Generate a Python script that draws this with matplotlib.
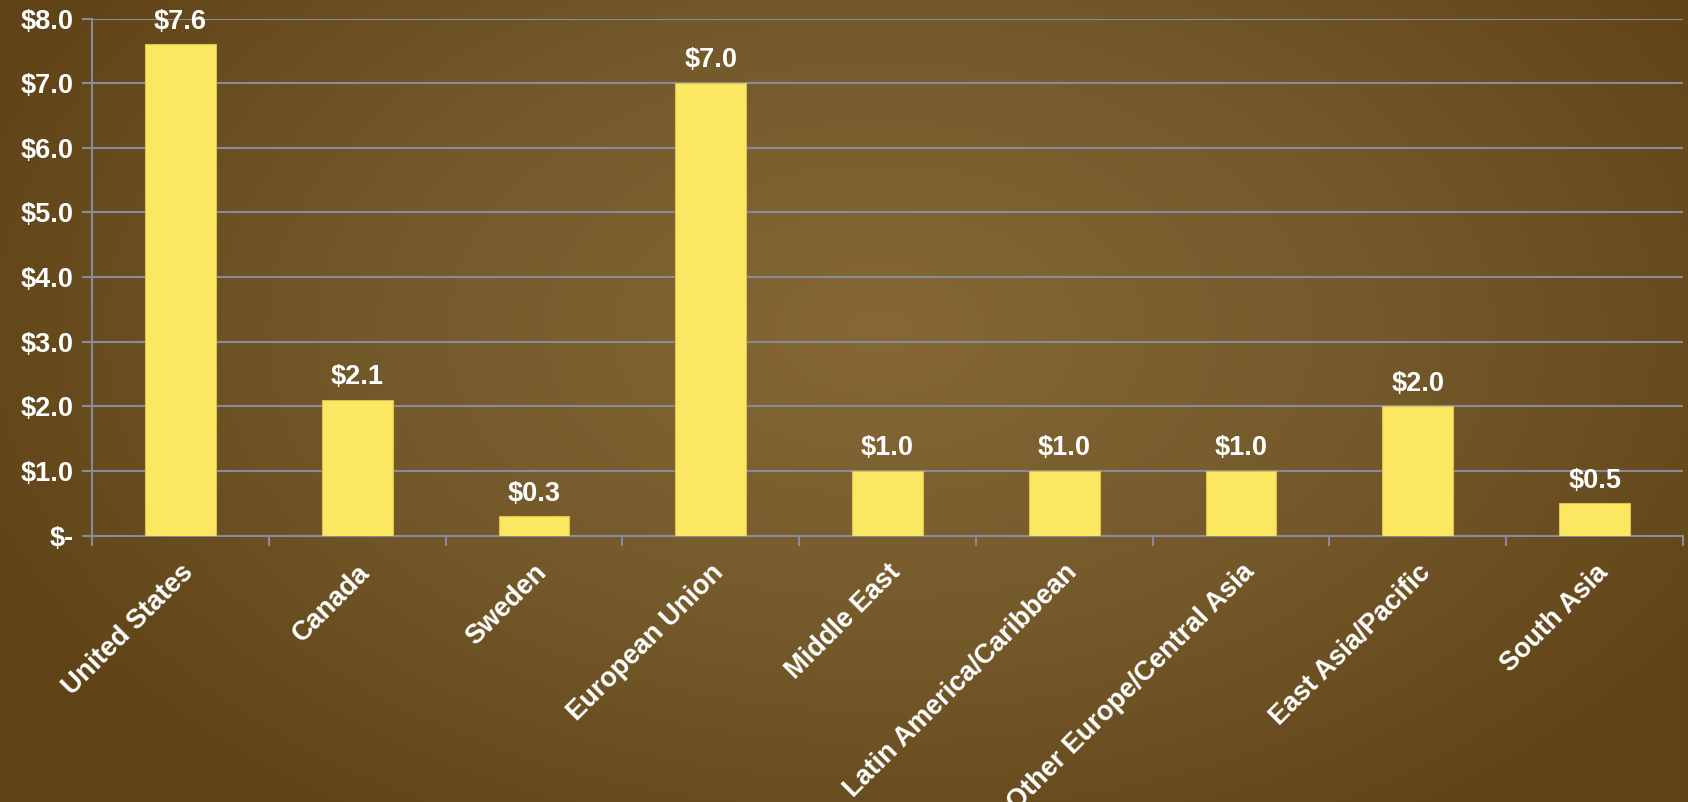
import numpy as np
import matplotlib
matplotlib.use("Agg")
import matplotlib.pyplot as plt
from matplotlib.colors import LinearSegmentedColormap

categories = ["United States", "Canada", "Sweden", "European Union", "Middle East",
              "Latin America/Caribbean", "Other Europe/Central Asia",
              "East Asia/Pacific", "South Asia"]
values = [7.6, 2.1, 0.3, 7.0, 1.0, 1.0, 1.0, 2.0, 0.5]
y_ticks = [0, 1, 2, 3, 4, 5, 6, 7, 8]
y_tick_labels = ["$-", "$1.0", "$2.0", "$3.0", "$4.0", "$5.0", "$6.0", "$7.0", "$8.0"]

W, H = 1688, 802
fig = plt.figure(figsize=(W / 100, H / 100), dpi=100)

# radial brown backdrop
bg = fig.add_axes([0, 0, 1, 1], zorder=-10)
yy, xx = np.mgrid[0:H, 0:W]
cx, cy = 880, 330
r = np.sqrt(((xx - cx) / 1000.0) ** 2 + ((yy - cy) / 620.0) ** 2)
r = np.clip(r, 0, 1)
cmap = LinearSegmentedColormap.from_list("bg", ["#856835", "#74592b", "#5f4316"])
bg.imshow(r, cmap=cmap, vmin=0, vmax=1, aspect="auto", interpolation="bilinear")
bg.set_axis_off()

ax = fig.add_axes([92 / W, 1 - 535.7 / H, (1683 - 92) / W, (535.7 - 18.5) / H])
ax.patch.set_alpha(0)

x = np.arange(len(categories))
bars = ax.bar(x, values, width=0.4, color="#fce762", edgecolor="#d9c24e",
              linewidth=0.8, zorder=3)

font = {"family": "Liberation Sans", "weight": "bold", "color": "white"}
for xi, v in zip(x, values):
    ax.annotate(f"${v:.1f}", (xi, v), xytext=(0, 7), textcoords="offset points",
                ha="center", va="bottom", fontsize=19.5, **font)

ax.set_xlim(-0.5, len(categories) - 0.5)
ax.set_ylim(0, 8)
ax.set_yticks(y_ticks)
ax.set_yticklabels(y_tick_labels, fontsize=19.5, **font)

ax.set_xticks(x)
ax.set_xticklabels(categories, rotation=45, ha="right", rotation_mode="anchor",
                   fontsize=19.5, **font)
ax.tick_params(axis="x", length=0, pad=17)
ax.set_xticks(np.arange(len(categories) + 1) - 0.5, minor=True)
ax.tick_params(axis="x", which="minor", length=7, width=1.5, color="#8a8a9a")
ax.tick_params(axis="y", length=7, width=1.5, color="#8a8a9a", pad=6)

ax.grid(axis="y", color="#8a8a9a", linewidth=1.5, zorder=0)
for s in ["top", "right"]:
    ax.spines[s].set_visible(False)
for s in ["left", "bottom"]:
    ax.spines[s].set_color("#8a8a9a")
    ax.spines[s].set_linewidth(1.5)

fig.savefig("out.png", dpi=100)
